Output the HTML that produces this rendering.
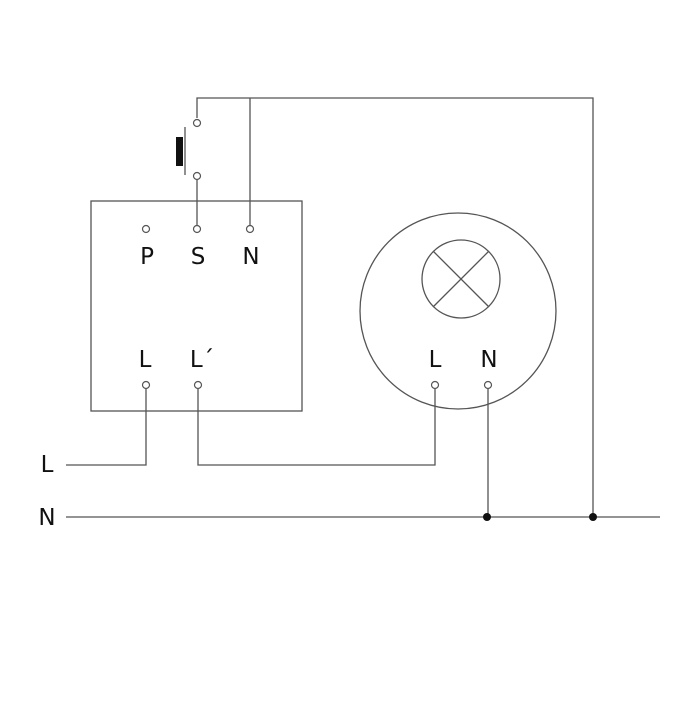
<!DOCTYPE html>
<html><head><style>body{margin:0;background:#fff}</style></head><body>
<svg width="700" height="700" xmlns="http://www.w3.org/2000/svg" font-family="DejaVu Sans, sans-serif" font-size="23">
<rect width="700" height="700" fill="#fff"/>
<g fill="none" stroke="#555" stroke-width="1.3">
<rect x="91" y="201" width="211" height="210"/>
<circle cx="458" cy="311" r="98"/>
<circle cx="461" cy="279" r="39"/>
<line x1="433" y1="251" x2="489" y2="307"/>
<line x1="489" y1="251" x2="433" y2="307"/>
<polyline points="197,118 197,98 593,98 593,517"/>
<line x1="250" y1="98" x2="250" y2="225"/>
<line x1="197" y1="180" x2="197" y2="225"/>
<polyline points="66,465 146,465 146,389"/>
<polyline points="198,389 198,465 435,465 435,389"/>
<line x1="488" y1="389" x2="488" y2="517"/>
<line x1="66" y1="517" x2="660" y2="517"/>
<line x1="185" y1="127" x2="185" y2="175"/>
</g>
<rect x="176" y="137" width="7" height="29" fill="#111"/>
<g fill="#fff" stroke="#555" stroke-width="1.2">
<circle cx="197" cy="123" r="3.5"/>
<circle cx="197" cy="176" r="3.5"/>
<circle cx="146" cy="229" r="3.5"/>
<circle cx="197" cy="229" r="3.5"/>
<circle cx="250" cy="229" r="3.5"/>
<circle cx="146" cy="385" r="3.5"/>
<circle cx="198" cy="385" r="3.5"/>
<circle cx="435" cy="385" r="3.5"/>
<circle cx="488" cy="385" r="3.5"/>
</g>
<circle cx="487" cy="517" r="4" fill="#111"/>
<circle cx="593" cy="517" r="4" fill="#111"/>
<g fill="#111" text-anchor="middle">
<text x="147" y="264">P</text>
<text x="198" y="264">S</text>
<text x="251" y="264">N</text>
<text x="145" y="367">L</text>
<text x="202" y="367">L´</text>
<text x="435" y="367">L</text>
<text x="489" y="367">N</text>
<text x="47" y="472">L</text>
<text x="47" y="525">N</text>
</g>
</svg>
</body></html>
